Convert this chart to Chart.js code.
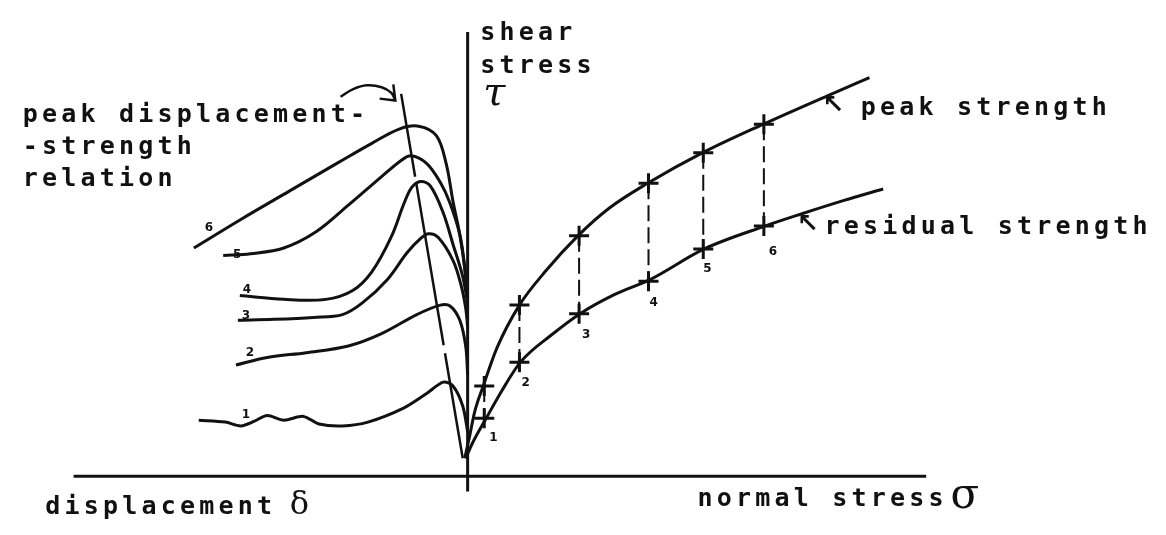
<!DOCTYPE html>
<html>
<head>
<meta charset="utf-8">
<script src="https://cdn.jsdelivr.net/npm/chart.js@4.4.1/dist/chart.umd.min.js"></script>
<style>
  html, body { margin: 0; padding: 0; background: #fff; }
  #wrap { width: 1166px; height: 535px; position: relative; }
</style>
</head>
<body>
<div id="wrap"><canvas id="chart"></canvas></div>
<script>
// right side: strength envelopes (normal stress -> shear stress)
const peakX = [-0.3, 0.2, 0.7, 1.6, 3.0, 5.3, 8.0, 11.3, 14.5, 18.4, 24.0, 30.2, 36.8, 41.1];
const peakY = [1.9, 4.2, 6.7, 9.5, 13.5, 18.0, 21.6, 25.3, 28.2, 30.8, 34.0, 37.0, 40.0, 41.9];
const residualX = [-0.2, 0.5, 1.9, 3.5, 5.4, 8.5, 11.5, 15.0, 18.7, 24.2, 30.4, 34.2, 38.5, 42.5];
const residualY = [1.9, 3.5, 6.1, 9.0, 12.0, 14.8, 17.1, 19.1, 20.7, 23.9, 26.3, 27.6, 29.0, 30.2];

// the six tests
const testNames = ['1', '2', '3', '4', '5', '6'];
const testSigma = [1.7, 5.3, 11.4, 18.5, 24.1, 30.3];
const testPeak = [9.5, 18.0, 25.3, 30.8, 34.0, 37.0];
const testResidual = [6.1, 12.0, 17.1, 20.5, 23.9, 26.3];

// left side: shear stress vs displacement for each test
const disp1 = [-27.5, -24.8, -23.2, -21.8, -20.5, -18.8, -16.8, -15.2, -12.8, -10.2, -6.5, -4.2, -2.5, -1.5, -0.5, 0];
const tau1 = [5.9, 5.7, 5.3, 5.8, 6.4, 5.9, 6.3, 5.5, 5.3, 5.7, 7.2, 8.7, 9.9, 9.5, 7.4, 4.7];
const disp2 = [-23.7, -20.5, -16.5, -12.2, -8.8, -5.2, -2.8, -1.8, -0.8, -0.2, 0];
const tau2 = [11.7, 12.5, 13.0, 13.7, 15.0, 17.0, 18.0, 17.9, 16.4, 13.7, 10.7];
const disp3 = [-23.5, -19.8, -15.8, -12.8, -10.8, -8.2, -6.2, -4.8, -4.0, -3.0, -1.5, -0.7, -0.2, 0];
const tau3 = [16.4, 16.5, 16.7, 17.0, 18.2, 20.7, 23.5, 25.0, 25.5, 25.1, 22.7, 20.2, 17.7, 15.7];
const disp4 = [-23.3, -18.8, -14.5, -11.8, -9.8, -7.8, -6.5, -5.7, -4.8, -3.8, -2.5, -1.5, -0.5, 0];
const tau4 = [19.0, 18.6, 18.6, 19.5, 21.5, 25.2, 28.7, 30.4, 31.0, 30.5, 27.7, 24.4, 21.0, 18.2];
const disp5 = [-25.0, -22.2, -18.8, -15.5, -12.2, -8.8, -6.8, -5.8, -4.2, -2.8, -1.8, -0.8, -0.3, 0];
const tau5 = [23.2, 23.4, 24.0, 25.7, 28.5, 31.5, 33.2, 33.7, 32.9, 30.9, 28.7, 25.4, 22.0, 18.7];
const disp6 = [-28.0, -23.2, -18.2, -13.2, -9.8, -7.0, -5.0, -3.2, -2.2, -1.5, -0.8, -0.3, 0];
const tau6 = [24.0, 27.0, 30.0, 33.0, 35.0, 36.5, 36.8, 35.8, 32.9, 28.9, 25.4, 21.9, 18.7];

// line through the peaks (peak displacement - strength relation)
const relationX = [-6.8, -0.5];
const relationY = [40.2, 1.9];

// axes
const axisX = [-40.3, 46.9];
const axisY = [46.7, -1.6];

// curved pointer from the label to the relation line
const pointerX = [-13.0, -11.7, -10.3, -8.8, -7.8, -7.4];
const pointerY = [39.9, 40.7, 41.1, 40.9, 40.3, 39.5];
const pointerHeadX = [-9.0, -7.4, -7.6];
const pointerHeadY = [39.7, 39.5, 41.2];

const ink = '#111';
const pts = (xs, ys) => xs.map((x, i) => ({ x: x, y: ys[i] }));

function curve(xs, ys, extra) {
  return Object.assign({
    data: pts(xs, ys),
    showLine: true,
    borderColor: ink,
    borderWidth: 3,
    pointRadius: 0,
    tension: 0.35,
    fill: false
  }, extra || {});
}

const datasets = [
  curve([axisX[0], axisX[1]], [0, 0], { borderWidth: 3, tension: 0 }),
  curve([0, 0], axisY, { borderWidth: 3, tension: 0 }),
  curve(disp1, tau1, { tension: 0.3 }),
  curve(disp2, tau2),
  curve(disp3, tau3),
  curve(disp4, tau4),
  curve(disp5, tau5),
  curve(disp6, tau6),
  curve(relationX, relationY, { borderWidth: 2.5, tension: 0, borderDash: [84, 6, 165, 8, 400, 0] }),
  curve(pointerX, pointerY, { borderWidth: 2.5, tension: 0.4 }),
  curve(pointerHeadX, pointerHeadY, { borderWidth: 2.5, tension: 0 }),
  curve(peakX, peakY, { cubicInterpolationMode: 'monotone' }),
  curve(residualX, residualY, { cubicInterpolationMode: 'monotone' })
];

// dashed verticals between peak and residual of each test
testSigma.forEach((s, i) => {
  datasets.push(curve([s, s], [testPeak[i], testResidual[i]], {
    borderWidth: 2, tension: 0, borderDash: [16, 6]
  }));
});

// + marks
datasets.push({
  data: pts(testSigma, testPeak),
  pointStyle: 'cross', pointRadius: 10, borderColor: ink, borderWidth: 3, showLine: false
});
datasets.push({
  data: pts(testSigma, testResidual),
  pointStyle: 'cross', pointRadius: 10, borderColor: ink, borderWidth: 3, showLine: false
});

// text, placed in data units
const mono = "bold 25px 'DejaVu Sans Mono', 'Liberation Mono', monospace";
const arrowFont = "bold 26px 'DejaVu Sans', sans-serif";
const textLabels = [
  { text: 'shear', x: 1.3, y: 45.9, font: mono },
  { text: 'stress', x: 1.3, y: 42.4, font: mono },
  { text: 'τ', x: 1.6, y: 39.0, font: "italic 40px 'DejaVu Serif', serif", spacing: 0 },
  { text: 'peak displacement-', x: -45.5, y: 37.2, font: mono },
  { text: '-strength', x: -45.5, y: 33.9, font: mono },
  { text: 'relation', x: -45.5, y: 30.5, font: mono },
  { text: '↖', x: 36.3, y: 38.2, font: arrowFont, spacing: 0 },
  { text: 'peak strength', x: 40.2, y: 38.0, font: mono },
  { text: '↖', x: 33.7, y: 25.7, font: arrowFont, spacing: 0 },
  { text: 'residual strength', x: 36.5, y: 25.5, font: mono },
  { text: 'displacement', x: -43.2, y: -4.0, font: mono },
  { text: 'δ', x: -18.2, y: -4.0, font: "32px 'DejaVu Serif', serif", spacing: 0 },
  { text: 'normal stress', x: 23.5, y: -3.1, font: mono },
  { text: 'σ', x: 49.4, y: -3.3, font: "42px 'DejaVu Serif', serif", spacing: 0 }
];

// small test numbers next to the residual marks and the curve starts
const rightNumX = [2.2, 5.5, 11.7, 18.6, 24.1, 30.8];
const rightNumY = [3.7, 9.5, 14.5, 17.9, 21.5, 23.3];
const leftNumX = [-23.1, -22.7, -23.1, -23.0, -24.0, -26.9];
const leftNumY = [6.1, 12.6, 16.5, 19.3, 23.0, 25.8];
const numFont = "bold 12px 'DejaVu Sans', sans-serif";
testNames.forEach((n, i) => {
  textLabels.push({ text: n, x: rightNumX[i], y: rightNumY[i], font: numFont, spacing: 0 });
  textLabels.push({ text: n, x: leftNumX[i], y: leftNumY[i], font: numFont, spacing: 0 });
});

const textPlugin = {
  id: 'textLabels',
  afterDatasetsDraw(chart) {
    const ctx = chart.ctx;
    const sx = chart.scales.x, sy = chart.scales.y;
    ctx.save();
    ctx.fillStyle = ink;
    ctx.textAlign = 'left';
    ctx.textBaseline = 'alphabetic';
    textLabels.forEach(l => {
      ctx.font = l.font;
      if ('letterSpacing' in ctx) ctx.letterSpacing = (l.spacing === 0 ? 0 : 4.2) + 'px';
      ctx.fillText(l.text, sx.getPixelForValue(l.x), sy.getPixelForValue(l.y));
    });
    ctx.restore();
  }
};

new Chart(document.getElementById('chart'), {
  type: 'scatter',
  data: { datasets: datasets },
  options: {
    responsive: true,
    maintainAspectRatio: false,
    animation: false,
    layout: { padding: 0 },
    plugins: { legend: { display: false }, tooltip: { enabled: false } },
    scales: {
      x: { type: 'linear', min: -46.5, max: 70.1, display: false },
      y: { type: 'linear', min: -4.8, max: 48.7, display: false }
    }
  },
  plugins: [textPlugin]
});
</script>
</body>
</html>
